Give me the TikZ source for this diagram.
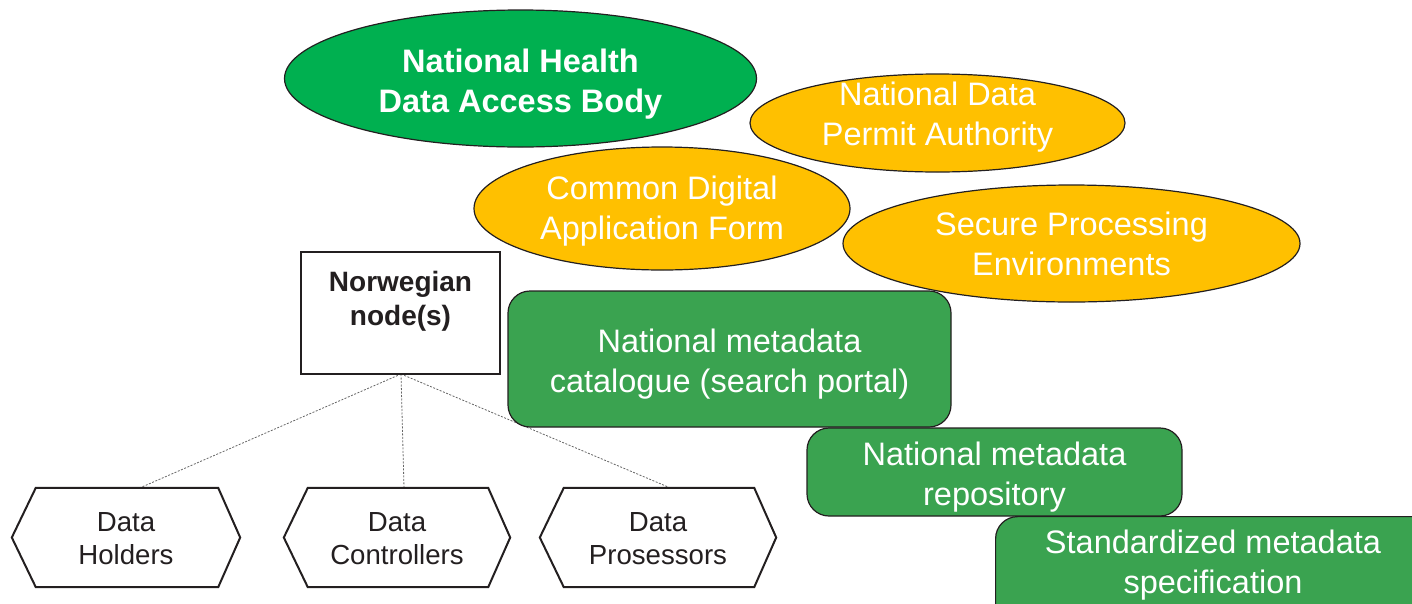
\documentclass[tikz,border=0pt]{standalone}
\usepackage{fontspec}
\setmainfont{Liberation Sans}
\usetikzlibrary{shapes.geometric,calc,backgrounds}
\definecolor{dgreen}{RGB}{0,176,80}
\definecolor{bgreen}{RGB}{58,163,80}
\definecolor{yel}{RGB}{255,192,0}
\definecolor{outl}{RGB}{35,31,32}
\tikzset{
  ell/.style={ellipse, draw=outl, line width=1.2pt, inner sep=0pt},
  rbox/.style={rectangle, rounded corners=22pt, draw=outl, line width=1.2pt, fill=bgreen, inner sep=0pt},
  wtext/.style={text=white, align=center, inner sep=0pt, font=\fontsize{32.5}{40}\selectfont},
  nbox/.style={rectangle, draw=outl, line width=2pt, fill=white, inner sep=0pt},
  ntext/.style={text=outl, align=center, inner sep=0pt, font=\bfseries\fontsize{28}{34}\selectfont},
  hextext/.style={rectangle, inner sep=0pt, text=outl, align=center,
    font=\fontsize{27.6}{33}\selectfont},
  hexline/.style={draw=outl, line width=2pt, fill=white},
  dotline/.style={draw=gray!80!black, line width=0.8pt, dash pattern=on 2pt off 1.5pt}
}
\begin{document}
\begin{tikzpicture}[x=1pt,y=-1pt]
\useasboundingbox (0,0) rectangle (1412,603);
% Norwegian node
\node[nbox, minimum width=199, minimum height=122] (nn) at (400.5,313) {};
\node[ntext] (nnt) at (400.5,301) {Norwegian\\node(s)};
\coordinate (nnb) at (401,374);
% hexagons (text nodes, outlines drawn on background)
\node[hextext, minimum width=228, minimum height=99] (h1) at (126,537.5) {};
\node[hextext, minimum width=226, minimum height=99] (h2) at (397,537.5) {};
\node[hextext, minimum width=236, minimum height=99] (h3) at (658,537.5) {};
\node[hextext] (h1t) at (126,539) {Data\\Holders};
\node[hextext] (h2t) at (397,539) {Data\\Controllers};
\node[hextext] (h3t) at (658,539) {Data\\Prosessors};
\begin{scope}[on background layer]
  \draw[dotline] (nnb) -- ($(h1.north)+(14,0)$);
  \draw[dotline] (nnb) -- ($(h2.north)+(7,0)$);
  \draw[dotline] (nnb) -- ($(h3.north)+(12,0)$);
  \foreach \h in {h1,h2,h3}{
    \draw[hexline] (\h.west) -- ([xshift=24]\h.north west) -- ([xshift=-22]\h.north east) -- (\h.east)
      -- ([xshift=-22]\h.south east) -- ([xshift=24]\h.south west) -- cycle;
  }
\end{scope}
% ellipses
\node[ell, fill=dgreen, minimum width=472, minimum height=137] (nhd) at (520.5,78.5) {};
\node[wtext, font=\bfseries\fontsize{32.5}{40}\selectfont] (nhdt) at (520.5,84.5) {National Health\\Data Access Body};
\node[ell, fill=yel, minimum width=375, minimum height=98] (ndp) at (937.5,123) {};
\node[wtext] (ndpt) at (937.5,117) {National Data\\Permit Authority};
\node[ell, fill=yel, minimum width=376, minimum height=123] (cda) at (662,208.5) {};
\node[wtext] (cdat) at (662,211.5) {Common Digital\\Application Form};
\node[ell, fill=yel, minimum width=457, minimum height=117] (spe) at (1071.5,243.5) {};
\node[wtext] (spet) at (1071.5,243.5) {Secure Processing\\Environments};
% rounded boxes
\node[rbox, minimum width=443, minimum height=136] (cat) at (729.5,359) {};
\node[wtext] (catt) at (729.5,364) {National metadata\\catalogue (search portal)};
\node[rbox, minimum width=375, minimum height=88] (rep) at (994.5,472) {};
\node[wtext] (rept) at (994.5,477) {National metadata\\repository};
\node[rbox, minimum width=440, minimum height=110, anchor=north west] (std) at (995,516) {};
\node[wtext] (stdt) at (1213,565) {Standardized metadata\\specification};
\end{tikzpicture}
\end{document}
